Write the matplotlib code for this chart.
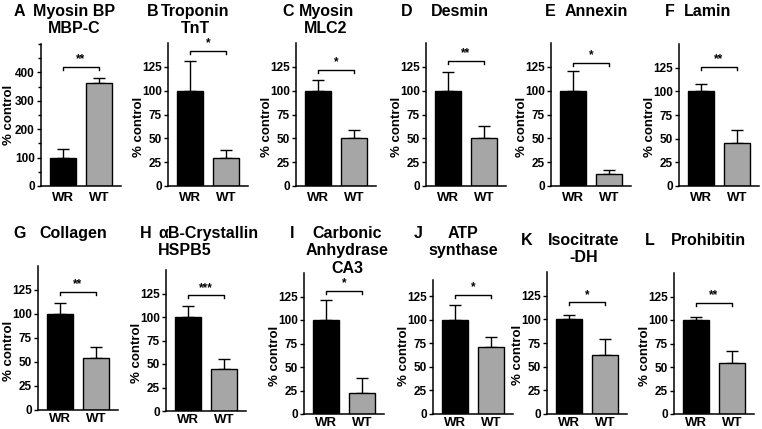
import numpy as np
import matplotlib
matplotlib.use("Agg")
import matplotlib.pyplot as plt
from matplotlib.ticker import MultipleLocator

plt.rcParams['font.family'] = ['Liberation Sans', 'DejaVu Sans']
plt.rcParams['font.weight'] = 'bold'
plt.rcParams['axes.labelweight'] = 'bold'

# data (% of control, mean and upper SEM)
groups = ["WR", "WT"]
letters = ["A", "B", "C", "D", "E", "F", "G", "H", "I", "J", "K", "L"]
names = ["Myosin BP\nMBP-C", "Troponin\nTnT", "Myosin\nMLC2", "Desmin", "Annexin", "Lamin",
         "Collagen", "\u03b1B-Crystallin\nHSPB5", "Carbonic\nAnhydrase\nCA3", "ATP\nsynthase",
         "Isocitrate\n-DH", "Prohibitin"]
wr_mean = [100, 100, 100, 100, 100, 100, 100, 100, 100, 100, 100, 100]
wr_err = [30, 31, 11, 20, 21, 8, 11, 12, 21, 16, 5, 3]
wt_mean = [362, 29, 50, 50, 13, 45, 54, 45, 22, 71, 62, 54]
wt_err = [17, 9, 9, 13, 4, 14, 12, 10, 16, 11, 17, 13]
stars = ["**", "*", "*", "**", "*", "**", "**", "***", "*", "*", "*", "**"]
bracket_y = [420, 142, 122, 131, 129, 126, 123, 123, 131, 126, 118, 118]
ymax = [500, 150, 150, 150, 150, 150, 150, 150, 150, 142, 150, 150]

# layout in pixels: axis left, axis top, axis bottom
W, H = 762, 429
ax_left = [41, 168, 296, 426, 551, 679, 38, 166, 304, 433, 547, 674]
ax_top = [44, 43, 43, 43, 43, 44, 266, 270, 273, 280, 272, 273]
ax_bot = [186, 186, 186, 186, 186, 186, 410, 411, 414, 414, 414, 414]
letter_x = [14, 147, 282, 401, 545, 665, 13, 140, 290, 414, 521, 645]
name_x = [74, 195, 326, 460, 596, 708, 73, 207, 347, 463, 584, 708]
name_align = ["center"] * 7 + ["left"] + ["center"] * 4
title_top = [4, 4, 4, 4, 4, 4, 226, 226, 226, 226, 233, 233]

fig = plt.figure(figsize=(7.62, 4.29), dpi=100)

x = np.arange(len(groups))
for i in range(12):
    hpx = ax_bot[i] - ax_top[i]
    ax = fig.add_axes([ax_left[i] / W, 1 - ax_bot[i] / H, 80 / W, hpx / H])
    means = [wr_mean[i], wt_mean[i]]
    errs = [wr_err[i], wt_err[i]]
    ax.bar(x, means, width=0.72, color=["black", "#a6a6a6"], edgecolor="black", linewidth=1, zorder=2)
    ax.errorbar(x, means, yerr=[[0, 0], errs], fmt="none", ecolor="black",
                elinewidth=1, capsize=4, capthick=1, zorder=1)
    ax.set_xlim(-0.6, 1.6)
    ax.set_ylim(0, ymax[i])
    if ymax[i] > 200:
        ax.set_yticks(np.arange(0, 401, 100))
        ax.yaxis.set_minor_locator(MultipleLocator(50))
    else:
        ax.set_yticks(np.arange(0, 126, 25))
    ax.set_xticks(x)
    ax.set_xticklabels(groups)
    for s in ["top", "right"]:
        ax.spines[s].set_visible(False)
    for s in ["left", "bottom"]:
        ax.spines[s].set_linewidth(1.1)
    ax.tick_params(axis="y", which="both", direction="out", length=3, width=1, labelsize=8.5, pad=1.5)
    ax.tick_params(axis="y", which="minor", length=2.5)
    ax.tick_params(axis="x", length=0, labelsize=9.5, pad=4 if i < 6 else 2)
    ax.set_ylabel("% control", fontsize=9.5)
    if ymax[i] > 200:
        ax.yaxis.set_label_coords(-26 / 80, 0.5)
    else:
        ax.yaxis.set_label_coords(-23 / 80, 62 / ymax[i])

    # significance bracket
    d = 3 * ymax[i] / hpx
    b = bracket_y[i]
    ax.plot([0, 0, 1, 1], [b - d, b, b, b - d], color="black", lw=1, clip_on=False)
    ax.text(0.5, b + 0.5 * d, stars[i], ha="center", va="bottom", fontsize=8.5, clip_on=False)

    # panel title
    fig.text(letter_x[i] / W, 1 - title_top[i] / H, letters[i], ha="left", va="top", fontsize=11.5)
    if name_align[i] == "left":
        fig.text(158 / W, 1 - title_top[i] / H, names[i], ha="left", va="top",
                 fontsize=11.5, linespacing=1.2, multialignment="left")
    else:
        fig.text(name_x[i] / W, 1 - title_top[i] / H, names[i], ha="center", va="top",
                 fontsize=11.5, linespacing=1.2, multialignment="center")

plt.savefig("out.png", dpi=100)
